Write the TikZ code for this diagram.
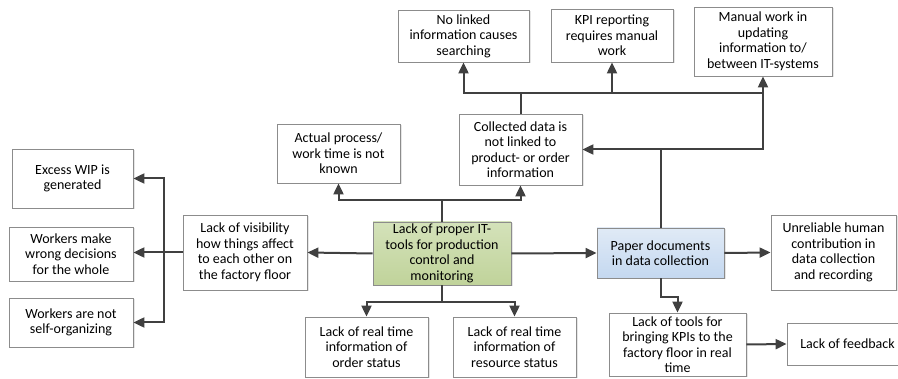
\documentclass[tikz,border=0pt]{standalone}
\usepackage{fontspec}
\setmainfont{Carlito}
\usetikzlibrary{arrows.meta,shadows}

\definecolor{linea}{RGB}{64,64,64}
\definecolor{bordo}{RGB}{140,140,140}
\definecolor{verde}{RGB}{192,211,154}
\definecolor{verdechiaro}{RGB}{212,226,186}
\definecolor{azzurro}{RGB}{196,216,240}
\definecolor{azzurrochiaro}{RGB}{224,234,246}

\tikzset{
  box/.style={draw=bordo, fill=white, line width=0.8pt, align=center, inner sep=2pt,
    font=\fontsize{14}{15.5}\selectfont,
    drop shadow={shadow xshift=1.5pt, shadow yshift=-1.5pt, opacity=0.2}},
  wh/.style 2 args={minimum width=#1pt, minimum height=#2pt},
  core/.style={box, top color=verdechiaro, bottom color=verde},
  paperbox/.style={box, top color=azzurrochiaro, bottom color=azzurro},
  conn/.style={draw=linea, line width=2pt, -{Triangle[length=11pt,width=10pt]}},
  link/.style={draw=linea, line width=2pt}
}

\begin{document}
\begin{tikzpicture}[x=1pt,y=-1pt]
  \useasboundingbox (0,0) rectangle (898,379); % margini come nel riferimento

  % nodi
  \node[core, wh={138}{63}] (green) at (442,253.5) {Lack of proper IT-\\tools for production\\control and\\monitoring};
  \node[paperbox, wh={127}{50}] (paper) at (660.5,253) {Paper documents\\in data collection};
  \node[box, wh={124}{75}] (visib) at (245,252.5) {Lack of visibility\\how things affect\\to each other on\\the factory floor};
  \node[box, wh={121}{59}] (excess) at (72.5,178.5) {Excess WIP is\\generated};
  \node[box, wh={124}{54}] (wrong) at (71,254) {Workers make\\wrong decisions\\for the whole};
  \node[box, wh={124}{49}] (selforg) at (71,322.5) {Workers are not\\self-organizing};
  \node[box, wh={123}{59}] (actual) at (338.5,153.5) {Actual process/\\work time is not\\known};
  \node[box, wh={123}{71}] (collected) at (520.5,149.5) {Collected data is\\not linked to\\product- or order\\information};
  \node[box, wh={131}{52}] (nolinked) at (463.5,36) {No linked\\information causes\\searching};
  \node[box, wh={122}{53}] (kpi) at (612,35.5) {KPI reporting\\requires manual\\work};
  \node[box, wh={138}{69}] (manual) at (763,41.5) {Manual work in\\updating\\information to/\\between IT-systems};
  \node[box, wh={123}{60}] (rtorder) at (366.5,347) {Lack of real time\\information of\\order status};
  \node[box, wh={123}{60}] (rtres) at (514.5,347) {Lack of real time\\information of\\resource status};
  \node[box, wh={125}{75}] (unrel) at (833.5,252.5) {Unreliable human\\contribution in\\data collection\\and recording};
  \node[box, wh={137}{63}] (tools) at (677.5,344.5) {Lack of tools for\\bringing KPIs to the\\factory floor in real\\time};
  \node[box, wh={121}{42}] (feedback) at (847.5,344) {Lack of feedback};

  % punti di snodo
  \coordinate (brk) at (164,252.5);
  \coordinate (gup) at (442,200);
  \coordinate (gdn) at (442,302);
  \coordinate (pup) at (660.5,149.5);
  \coordinate (pdn) at (660.5,297);
  \coordinate (cup) at (520.5,93);

  % connettori
  \draw[conn] (green.west) -- (visib.east);
  \draw[conn] (visib.west) -- (visib.west -| wrong.east);
  \draw[conn] (brk) |- (excess.east);
  \draw[conn] (brk) |- (selforg.east);
  \draw[conn] (green.north) -- (gup) -| (actual.south);
  \draw[conn] (gup) -| (collected.south);
  \draw[conn] (green.south) -- (gdn) -| (rtorder.north);
  \draw[conn] (gdn) -| (rtres.north);
  \draw[conn] (green.east) -- (paper.west);
  \draw[conn] (paper.east) -- (unrel.west);
  \draw[conn] (paper.north) -- (pup) -- (collected.east);
  \draw[conn] (pup) -| (manual.south);
  \draw[conn] (collected.north) -- (cup) -| (nolinked.south);
  \draw[conn] (cup) -| (kpi.south);
  \draw[link] (cup) -- (cup -| manual.south);
  \draw[conn] (paper.south) -- (pdn) -| (tools.north);
  \draw[conn] (tools.east) -- (feedback.west);
\end{tikzpicture}
\end{document}
